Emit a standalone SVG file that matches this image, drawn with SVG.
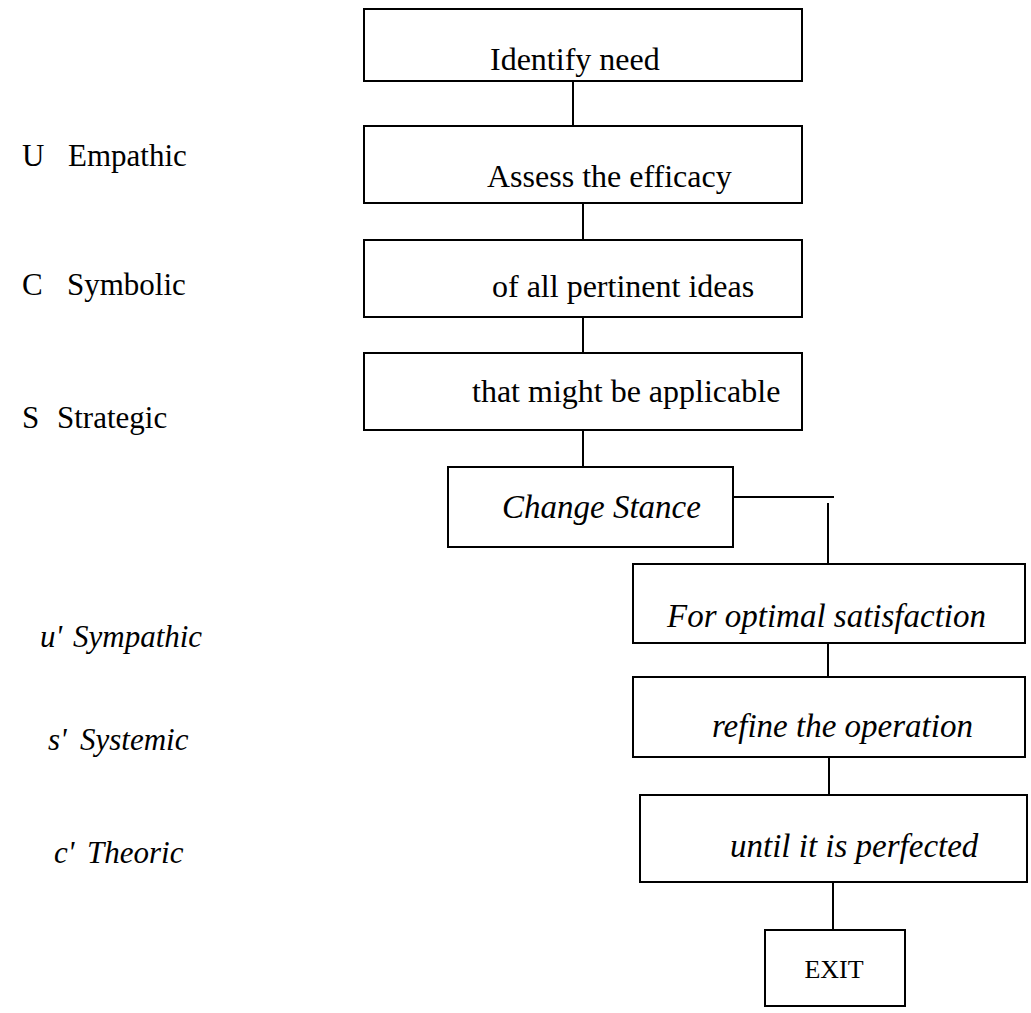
<svg xmlns="http://www.w3.org/2000/svg" width="1031" height="1013" viewBox="0 0 1031 1013">
  <style>
    .box { fill: #ffffff; stroke: #000000; stroke-width: 2; }
    .link { fill: none; stroke: #000000; stroke-width: 2; }
    .t { font-family: "Liberation Serif", "Times New Roman", serif; font-size: 32px; fill: #000000; }
    .ti { font-family: "Liberation Serif", "Times New Roman", serif; font-size: 33px; font-style: italic; fill: #000000; }
    .lbl { font-family: "Liberation Serif", "Times New Roman", serif; font-size: 31px; fill: #000000; }
    .lbli { font-family: "Liberation Serif", "Times New Roman", serif; font-size: 31px; font-style: italic; fill: #000000; }
  </style>
  <rect width="1031" height="1013" fill="#ffffff"/>

  <!-- connectors between steps -->
  <g id="connectors">
    <line class="link" x1="573" y1="81" x2="573" y2="126"/>
    <line class="link" x1="583" y1="203" x2="583" y2="240"/>
    <line class="link" x1="583" y1="317" x2="583" y2="353"/>
    <line class="link" x1="583" y1="430" x2="583" y2="467"/>
    <line class="link" x1="733" y1="497" x2="834" y2="497"/>
    <line class="link" x1="828" y1="503" x2="828" y2="564"/>
    <line class="link" x1="828" y1="643" x2="828" y2="677"/>
    <line class="link" x1="829" y1="757" x2="829" y2="795"/>
    <line class="link" x1="833" y1="882" x2="833" y2="930"/>
  </g>

  <!-- flow steps -->
  <g id="identify-need">
    <rect class="box" x="364" y="9" width="438" height="72"/>
    <text class="t" x="490" y="70">Identify need</text>
  </g>
  <g id="assess-efficacy">
    <rect class="box" x="364" y="126" width="438" height="77"/>
    <text class="t" x="487" y="187">Assess the efficacy</text>
  </g>
  <g id="pertinent-ideas">
    <rect class="box" x="364" y="240" width="438" height="77"/>
    <text class="t" x="492" y="297">of all pertinent ideas</text>
  </g>
  <g id="applicable">
    <rect class="box" x="364" y="353" width="438" height="77"/>
    <text class="t" x="472" y="402">that might be applicable</text>
  </g>
  <g id="change-stance">
    <rect class="box" x="448" y="467" width="285" height="80"/>
    <text class="ti" x="502" y="518">Change Stance</text>
  </g>
  <g id="optimal-satisfaction">
    <rect class="box" x="633" y="564" width="392" height="79"/>
    <text class="ti" x="667" y="627">For optimal satisfaction</text>
  </g>
  <g id="refine-operation">
    <rect class="box" x="633" y="677" width="392" height="80"/>
    <text class="ti" x="712" y="737">refine the operation</text>
  </g>
  <g id="until-perfected">
    <rect class="box" x="640" y="795" width="387" height="87"/>
    <text class="ti" x="730" y="857">until it is perfected</text>
  </g>
  <g id="exit">
    <rect class="box" x="765" y="930" width="140" height="76"/>
    <text class="t" x="834" y="978" text-anchor="middle" style="font-size:26px">EXIT</text>
  </g>

  <!-- side labels -->
  <g id="label-empathic">
    <text class="lbl" y="166"><tspan x="22">U</tspan><tspan x="68">Empathic</tspan></text>
  </g>
  <g id="label-symbolic">
    <text class="lbl" y="295"><tspan x="22">C</tspan><tspan x="67">Symbolic</tspan></text>
  </g>
  <g id="label-strategic">
    <text class="lbl" y="428"><tspan x="22">S</tspan><tspan x="57">Strategic</tspan></text>
  </g>
  <g id="label-sympathic">
    <text class="lbli" y="647"><tspan x="40">u'</tspan><tspan x="73">Sympathic</tspan></text>
  </g>
  <g id="label-systemic">
    <text class="lbli" y="750"><tspan x="48">s'</tspan><tspan x="80">Systemic</tspan></text>
  </g>
  <g id="label-theoric">
    <text class="lbli" y="863"><tspan x="54">c'</tspan><tspan x="87">Theoric</tspan></text>
  </g>
</svg>
